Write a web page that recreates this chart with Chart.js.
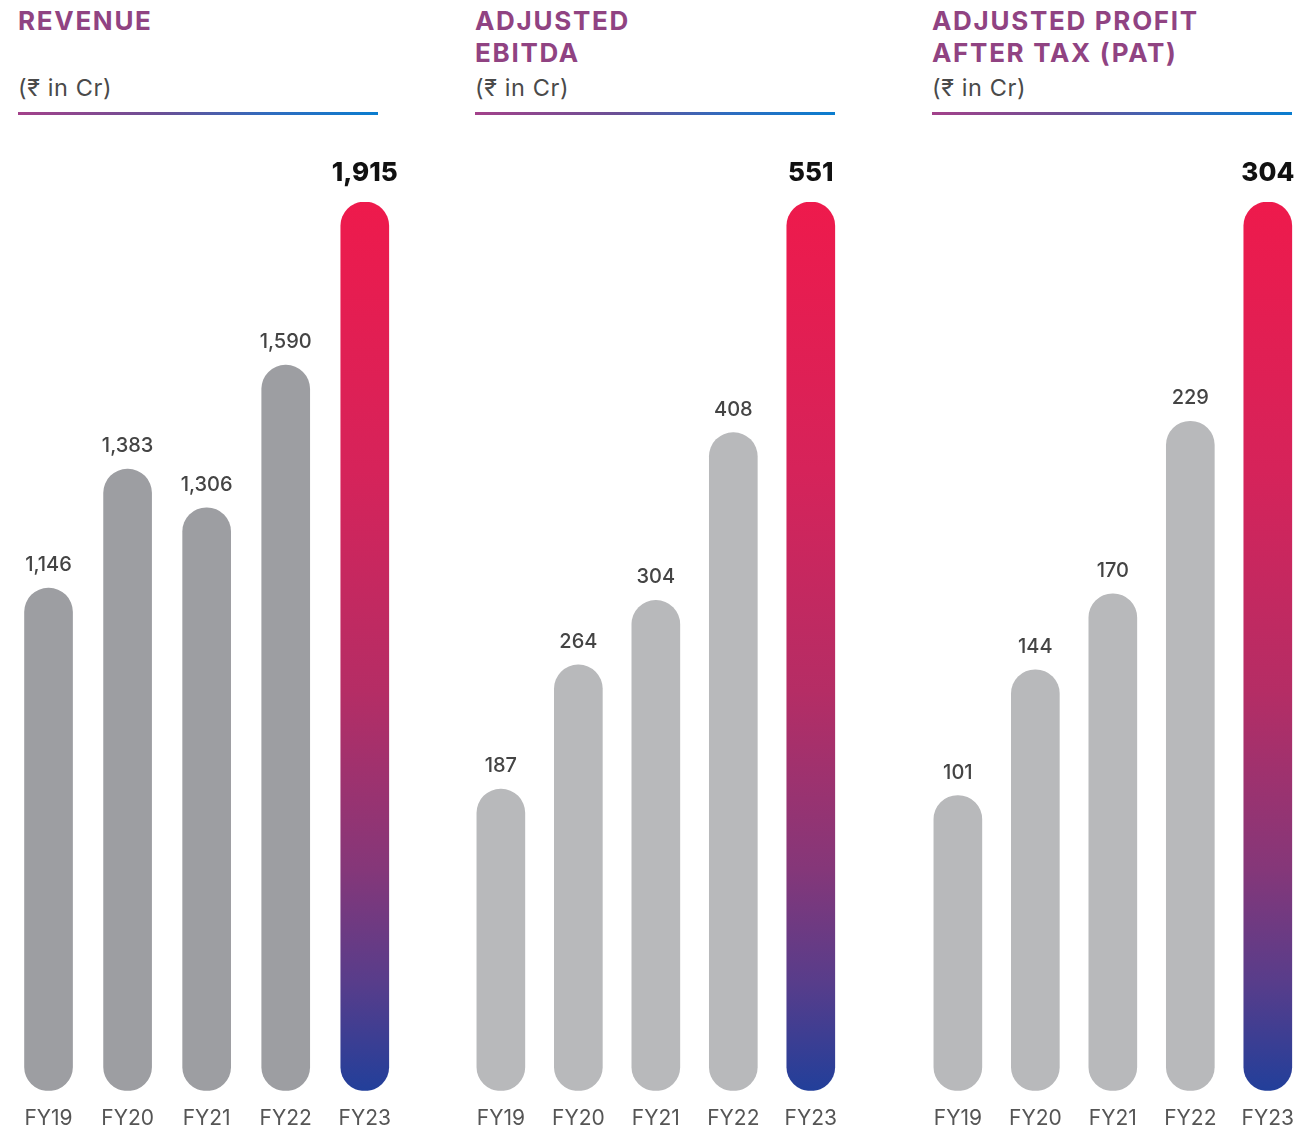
<!DOCTYPE html>
<html>
<head>
<meta charset="utf-8">
<script src="https://cdn.jsdelivr.net/npm/chart.js@4.4.0/dist/chart.umd.min.js"></script>
<style>
  html, body { margin: 0; padding: 0; background: #fff; width: 1296px; height: 1131px; overflow: hidden; }
  body { position: relative; font-family: Inter, "Noto Sans", sans-serif; }
  .head { position: absolute; top: 0; width: 362px; }
  .title { color: #904382; font-weight: 700; font-size: 26px; line-height: 32px; letter-spacing: 1.7px; margin-top: 5px; }
  .unit { position: absolute; top: 72px; color: #4a4a4a; font-size: 23.5px; line-height: 32px; letter-spacing: 0.6px; }
  .rule { position: absolute; top: 112px; left: 0; width: 360px; height: 3px;
          background: linear-gradient(to right, #a3418a, #6a5096 40%, #2f6cbf 70%, #0a7dcf); }
  canvas { position: absolute; top: 120px; }
</style>
</head>
<body>
<div class="head" style="left:18px"><div class="title">REVENUE</div><div class="unit">(₹ in Cr)</div><div class="rule"></div></div>
<div class="head" style="left:475px"><div class="title">ADJUSTED<br>EBITDA</div><div class="unit">(₹ in Cr)</div><div class="rule"></div></div>
<div class="head" style="left:932px"><div class="title">ADJUSTED PROFIT<br>AFTER TAX (PAT)</div><div class="unit">(₹ in Cr)</div><div class="rule"></div></div>

<canvas id="revenue" width="397" height="1029" style="left:9px"></canvas>
<canvas id="ebitda" width="390" height="1029" style="left:462px"></canvas>
<canvas id="pat" width="390" height="1029" style="left:919px"></canvas>

<script>
// data

const years = ['FY19', 'FY20', 'FY21', 'FY22', 'FY23'];
const revenue = [1146, 1383, 1306, 1590, 1915];
const ebitda = [187, 264, 304, 408, 551];
const pat = [101, 144, 170, 229, 304];

// labels above the bars
const valueLabels = {
  id: 'valueLabels',
  afterDatasetsDraw(chart) {
    const ctx = chart.ctx;
    const meta = chart.getDatasetMeta(0);
    const vals = chart.data.datasets[0].data;
    ctx.save();
    ctx.textAlign = 'center';
    ctx.textBaseline = 'middle';
    meta.data.forEach((bar, i) => {
      const last = i === vals.length - 1;
      ctx.font = last ? '800 26px Inter' : '500 20px Inter';
      ctx.fillStyle = last ? '#111' : '#444';
      ctx.fillText(vals[i].toLocaleString('en-US'), bar.x, bar.y - (last ? 29 : 23));
    });
    ctx.restore();
  }
};

function barColors(grey) {
  return (c) => {
    if (c.dataIndex !== years.length - 1) return grey;
    const area = c.chart.chartArea;
    if (!area) return '#e91e4f';
    const g = c.chart.ctx.createLinearGradient(0, area.top, 0, area.bottom);
    g.addColorStop(0, '#ee1a4c');
    g.addColorStop(0.3, '#d6235a');
    g.addColorStop(0.55, '#b52d65');
    g.addColorStop(0.75, '#853779');
    g.addColorStop(0.88, '#573d8b');
    g.addColorStop(1, '#223f9a');
    return g;
  };
}

function makeChart(id, values, grey, yMin) {
  return new Chart(document.getElementById(id), {
    type: 'bar',
    data: {
      labels: years,
      datasets: [{
        data: values,
        base: yMin,
        backgroundColor: barColors(grey),
        borderRadius: 24,
        borderSkipped: false,
        barThickness: 48,
      }]
    },
    options: {
      responsive: false,
      animation: false,
      layout: { padding: { top: 82, bottom: 3, left: 0, right: 0 } },
      plugins: { legend: { display: false }, tooltip: { enabled: false } },
      scales: {
        x: {
          grid: { display: false, drawTicks: false },
          border: { display: false },
          ticks: { color: '#555', font: { family: 'Inter', size: 21 }, padding: 15 }
        },
        y: {
          display: false,
          min: yMin,
          max: Math.max(...values),
        }
      }
    },
    plugins: [valueLabels]
  });
}

makeChart('revenue', revenue, '#9d9ea2', 145);
makeChart('ebitda', ebitda, '#b8b9bb', 0);
makeChart('pat', pat, '#b8b9bb', 0);
</script>
</body>
</html>
